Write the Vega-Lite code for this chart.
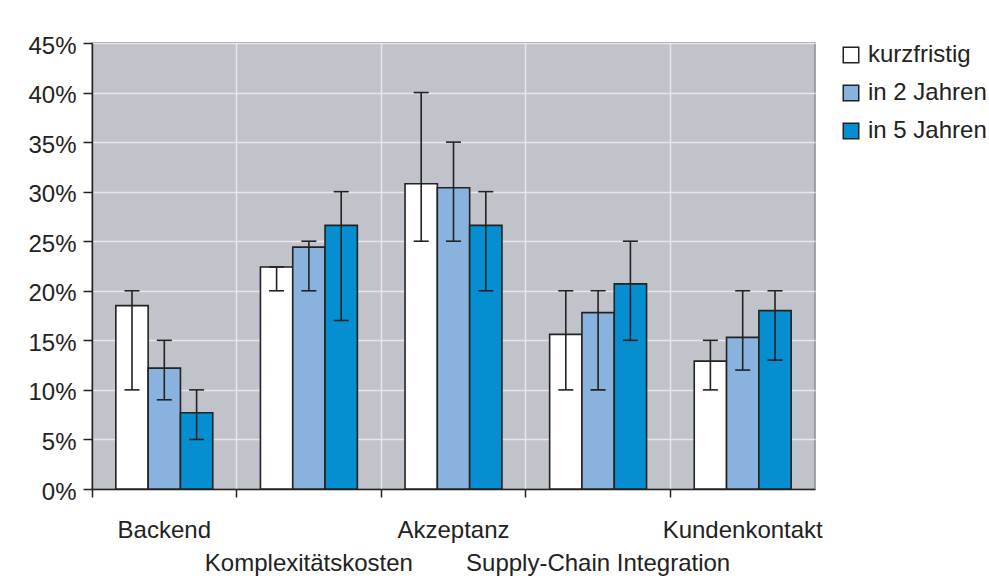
{
  "$schema": "https://vega.github.io/schema/vega-lite/v6.json",
  "width": 723,
  "height": 446,
  "autosize": "none",
  "padding": {"left": 92, "top": 43, "right": 174, "bottom": 97},
  "background": "white",
  "config": {
    "font": "Liberation Sans",
    "view": {"fill": "#c0c3ca", "stroke": "#8a8a8a", "strokeWidth": 1.5},
    "axis": {
      "domainColor": "#222222",
      "domainWidth": 1.5,
      "tickColor": "#222222",
      "tickWidth": 1.5,
      "gridColor": "#e6e7ec",
      "gridWidth": 1.5,
      "labelColor": "#222222",
      "labelFontSize": 24,
      "labelFont": "Liberation Sans",
      "title": null
    },
    "axisX": {
      "bandPosition": 0,
      "tickSize": 8,
      "grid": true,
      "labelAngle": 0,
      "labelAlign": "center",
      "labelBaseline": "top",
      "labelPadding": 21,
      "labelOverlap": false,
      "labelLimit": 0,
      "labelFlush": false,
      "labelLineHeight": 33,
      "labelExpr": "datum.label == 'Komplexitätskosten' || datum.label == 'Supply-Chain Integration' ? ['', datum.label] : datum.label"
    },
    "axisY": {
      "values": [0, 0.05, 0.1, 0.15, 0.2, 0.25, 0.3, 0.35, 0.4, 0.45],
      "format": ".0%",
      "tickSize": 9,
      "labelPadding": 7,
      "labelOffset": 3,
      "grid": true
    },
    "legend": {
      "orient": "right",
      "offset": 24,
      "padding": 0,
      "symbolType": "square",
      "symbolSize": 240,
      "symbolStrokeColor": "#222222",
      "symbolStrokeWidth": 1.5,
      "labelFontSize": 24,
      "labelColor": "#222222",
      "labelFont": "Liberation Sans",
      "labelOffset": 5,
      "labelLimit": 0,
      "rowPadding": 14,
      "title": null
    }
  },
  "data": {
    "values": [
      {"cat": "Backend", "period": "kurzfristig", "value": 0.185, "lo": 0.10, "hi": 0.20},
      {"cat": "Backend", "period": "in 2 Jahren", "value": 0.122, "lo": 0.09, "hi": 0.15},
      {"cat": "Backend", "period": "in 5 Jahren", "value": 0.077, "lo": 0.05, "hi": 0.10},
      {"cat": "Komplexitätskosten", "period": "kurzfristig", "value": 0.224, "lo": 0.20, "hi": 0.224},
      {"cat": "Komplexitätskosten", "period": "in 2 Jahren", "value": 0.244, "lo": 0.20, "hi": 0.25},
      {"cat": "Komplexitätskosten", "period": "in 5 Jahren", "value": 0.266, "lo": 0.17, "hi": 0.30},
      {"cat": "Akzeptanz", "period": "kurzfristig", "value": 0.308, "lo": 0.25, "hi": 0.40},
      {"cat": "Akzeptanz", "period": "in 2 Jahren", "value": 0.304, "lo": 0.25, "hi": 0.35},
      {"cat": "Akzeptanz", "period": "in 5 Jahren", "value": 0.266, "lo": 0.20, "hi": 0.30},
      {"cat": "Supply-Chain Integration", "period": "kurzfristig", "value": 0.156, "lo": 0.10, "hi": 0.20},
      {"cat": "Supply-Chain Integration", "period": "in 2 Jahren", "value": 0.178, "lo": 0.10, "hi": 0.20},
      {"cat": "Supply-Chain Integration", "period": "in 5 Jahren", "value": 0.207, "lo": 0.15, "hi": 0.25},
      {"cat": "Kundenkontakt", "period": "kurzfristig", "value": 0.129, "lo": 0.10, "hi": 0.15},
      {"cat": "Kundenkontakt", "period": "in 2 Jahren", "value": 0.153, "lo": 0.12, "hi": 0.20},
      {"cat": "Kundenkontakt", "period": "in 5 Jahren", "value": 0.180, "lo": 0.13, "hi": 0.20}
    ]
  },
  "encoding": {
    "x": {
      "field": "cat",
      "type": "nominal",
      "sort": ["Backend", "Komplexitätskosten", "Akzeptanz", "Supply-Chain Integration", "Kundenkontakt"],
      "scale": {"paddingInner": 0, "paddingOuter": 0},
      "title": null
    },
    "xOffset": {
      "field": "period",
      "type": "nominal",
      "sort": ["kurzfristig", "in 2 Jahren", "in 5 Jahren"],
      "scale": {"paddingInner": 0, "paddingOuter": 0.738}
    }
  },
  "layer": [
    {
      "mark": {"type": "bar", "stroke": "#222222", "strokeWidth": 1.6},
      "encoding": {
        "y": {"field": "value", "type": "quantitative", "scale": {"domain": [0, 0.45]}, "title": null},
        "fill": {
          "field": "period",
          "type": "nominal",
          "scale": {"domain": ["kurzfristig", "in 2 Jahren", "in 5 Jahren"], "range": ["#ffffff", "#8ab2de", "#058fd0"]},
          "title": null
        }
      }
    },
    {
      "mark": {"type": "rule", "color": "#222222", "strokeWidth": 1.6},
      "encoding": {
        "y": {"field": "lo", "type": "quantitative", "title": null},
        "y2": {"field": "hi"}
      }
    },
    {
      "mark": {"type": "tick", "color": "#222222", "thickness": 1.6, "size": 15, "opacity": 1},
      "encoding": {
        "y": {"field": "lo", "type": "quantitative", "title": null}
      }
    },
    {
      "mark": {"type": "tick", "color": "#222222", "thickness": 1.6, "size": 15, "opacity": 1},
      "encoding": {
        "y": {"field": "hi", "type": "quantitative", "title": null}
      }
    }
  ]
}
